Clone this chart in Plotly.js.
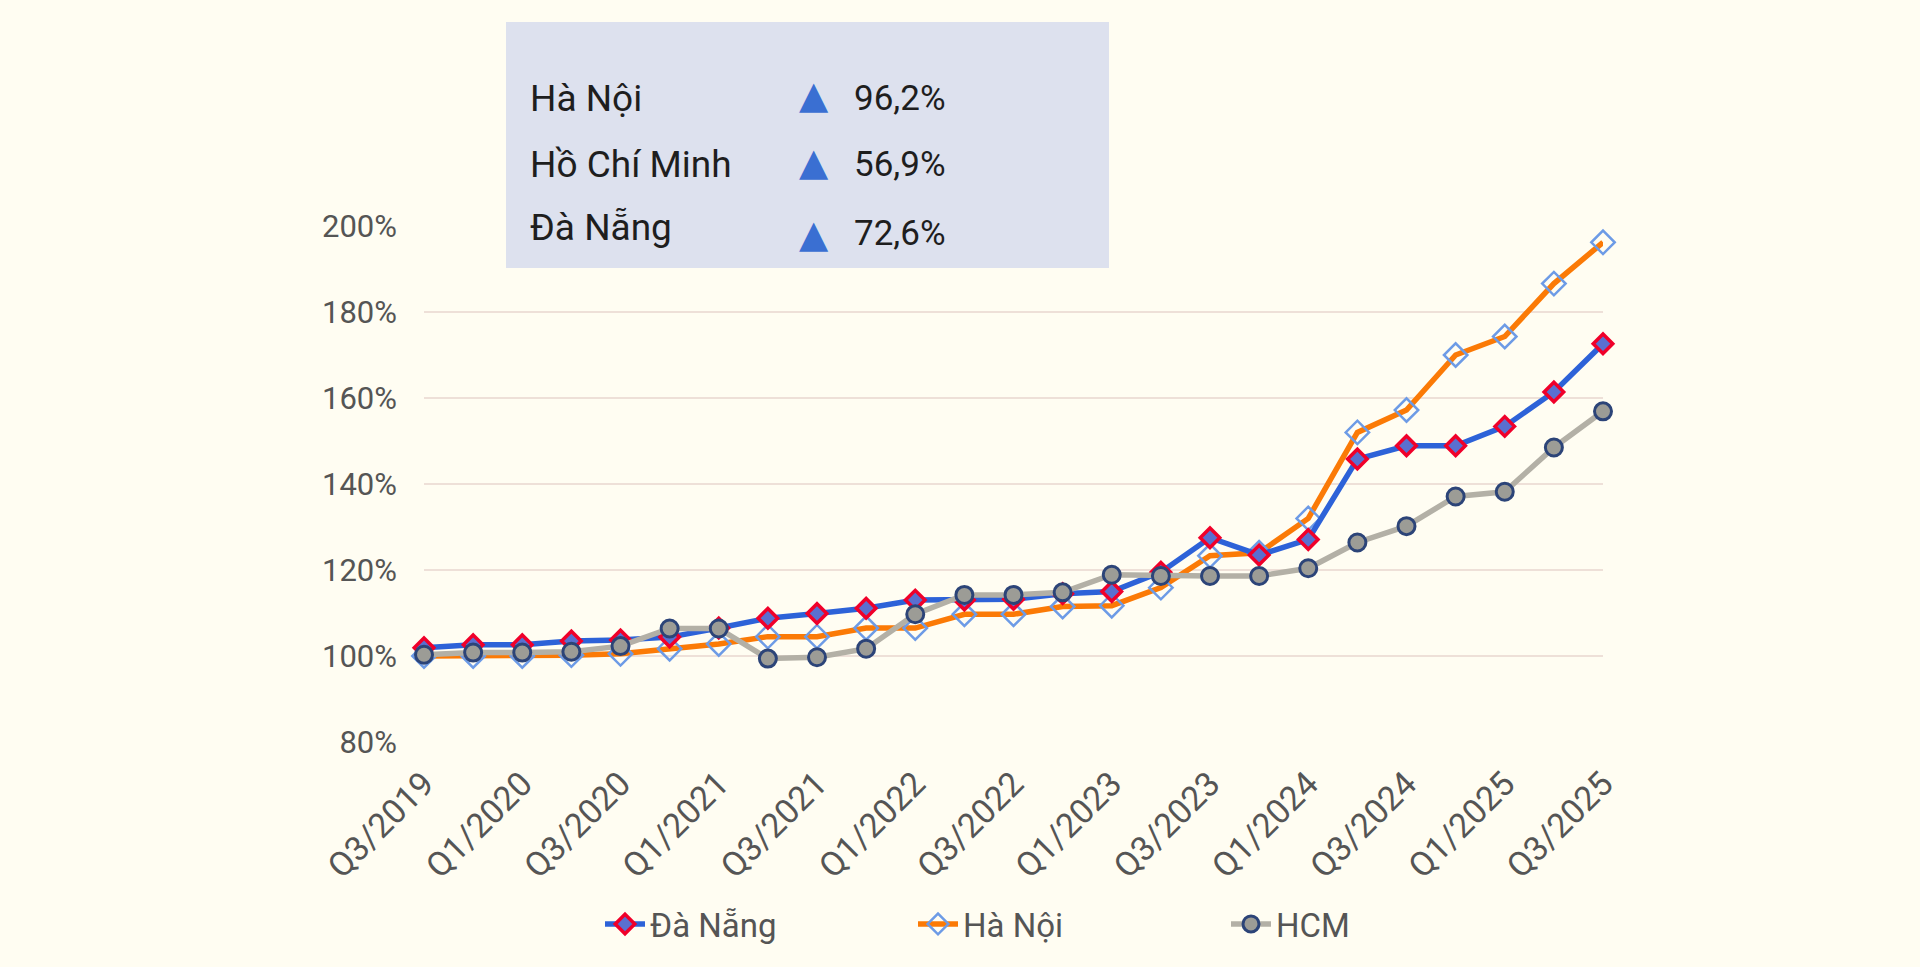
<!DOCTYPE html>
<html>
<head>
<meta charset="utf-8">
<script src="https://cdn.plot.ly/plotly-3.0.1.min.js"></script>
<style>
  html, body { margin: 0; padding: 0; background: #fffdf2; }
  #chart { width: 1920px; height: 967px; }
</style>
</head>
<body>
<div id="chart"></div>
<script>
const quarters = [
  "Q3/2019","Q4/2019","Q1/2020","Q2/2020","Q3/2020","Q4/2020","Q1/2021","Q2/2021","Q3/2021",
  "Q4/2021","Q1/2022","Q2/2022","Q3/2022","Q4/2022","Q1/2023","Q2/2023","Q3/2023","Q4/2023",
  "Q1/2024","Q2/2024","Q3/2024","Q4/2024","Q1/2025","Q2/2025","Q3/2025"
];
const tickLabels = ["Q3/2019","Q1/2020","Q3/2020","Q1/2021","Q3/2021","Q1/2022","Q3/2022",
  "Q1/2023","Q3/2023","Q1/2024","Q3/2024","Q1/2025","Q3/2025"];

const daNang = [101.9,102.6,102.6,103.5,103.7,104.4,106.5,108.8,109.9,111.1,113.0,113.0,113.2,
  114.5,115.0,119.5,127.5,123.5,127.1,145.8,148.9,148.9,153.4,161.4,172.6];
const haNoi = [100.0,100.0,100.0,100.2,100.5,101.7,102.8,104.5,104.5,106.5,106.5,109.7,109.7,
  111.5,111.7,115.9,123.3,124.0,132.0,152.0,157.2,170.0,174.3,186.6,196.2];
const hcm = [100.3,100.8,100.8,101.0,102.3,106.4,106.4,99.4,99.7,101.7,109.7,114.2,114.2,
  114.8,118.9,118.6,118.6,118.6,120.4,126.4,130.2,137.1,138.2,148.5,156.9];

const boxCities = ["Hà Nội","Hồ Chí Minh","Đà Nẵng"];
const boxChanges = ["96,2%","56,9%","72,6%"];

const traces = [
  {
    name: "Hà Nội", x: quarters, y: haNoi, type: "scatter", mode: "lines+markers",
    line: {color: "#fb7a06", width: 5.5},
    marker: {symbol: "diamond-open", size: 18, color: "#6d9be6", line: {width: 2.5, color: "#6d9be6"}},
    legendrank: 2, cliponaxis: false
  },
  {
    name: "Đà Nẵng", x: quarters, y: daNang, type: "scatter", mode: "lines+markers",
    line: {color: "#2d62d8", width: 5.5},
    marker: {symbol: "diamond", size: 15, color: "#5a6fd0", line: {width: 3.5, color: "#f0002a"}},
    legendrank: 1, cliponaxis: false
  },
  {
    name: "HCM", x: quarters, y: hcm, type: "scatter", mode: "lines+markers",
    line: {color: "#b3b0a6", width: 5.5},
    marker: {symbol: "circle", size: 17, color: "#9c9c96", line: {width: 3, color: "#2c4478"}},
    legendrank: 3, cliponaxis: false
  }
];

const L = 424, R = 1603, T = 226, B = 742;
const px = x => (x - L) / (R - L);
const py = y => (B - y) / (B - T);

const boxRowsY = [98, 164, 227];
const triRowsY = [95, 162, 234];
const annotations = [];
boxCities.forEach((c, i) => {
  annotations.push({text: c, xref: "paper", yref: "paper", x: px(528), y: py(boxRowsY[i]),
    xanchor: "left", yanchor: "middle", showarrow: false,
    font: {family: "Roboto, Arial, sans-serif", size: 37, color: "#1e1e1e"}});
  annotations.push({text: "▲", xref: "paper", yref: "paper", x: px(814), y: py(triRowsY[i]),
    xanchor: "center", yanchor: "middle", showarrow: false,
    font: {family: "DejaVu Sans, sans-serif", size: 38, color: "#3a6fd2"}});
  annotations.push({text: boxChanges[i], xref: "paper", yref: "paper", x: px(852), y: py(boxRowsY[i] + (i === 2 ? 6 : 0)),
    xanchor: "left", yanchor: "middle", showarrow: false,
    font: {family: "Roboto, Arial, sans-serif", size: 35, color: "#1e1e1e"}});
});

const layout = {
  width: 1920, height: 967,
  paper_bgcolor: "#fffdf2", plot_bgcolor: "#fffdf2",
  margin: {l: L, r: 1920 - R, t: T, b: 967 - B, pad: 0},
  font: {family: "Roboto, Arial, sans-serif", color: "#555555"},
  xaxis: {
    type: "category", categoryorder: "array", categoryarray: quarters,
    range: [0, 24], tickmode: "array", tickvals: tickLabels, ticktext: tickLabels,
    tickangle: -45, showgrid: false, zeroline: false, showline: false, ticks: "",
    tickfont: {size: 34, color: "#555555"}, ticklabelstandoff: 14
  },
  yaxis: {
    range: [80, 200], dtick: 20, tick0: 80, ticksuffix: "%",
    gridcolor: "#eee0d8", gridwidth: 2, zeroline: false, showline: false, ticks: "",
    tickfont: {size: 31, color: "#555555"}, ticklabelstandoff: 26
  },
  showlegend: true,
  legend: {
    orientation: "h", x: px(600), xanchor: "left", y: py(924), yanchor: "middle",
    font: {size: 33, color: "#555555"}, bgcolor: "rgba(0,0,0,0)",
    entrywidth: 258, itemwidth: 40, traceorder: "normal"
  },
  shapes: [{
    type: "rect", xref: "paper", yref: "paper", layer: "above",
    x0: px(506), x1: px(1109), y0: py(268), y1: py(22),
    fillcolor: "#dde1ee", line: {width: 0}
  }],
  annotations: annotations
};

Plotly.newPlot("chart", traces, layout, {displayModeBar: false, staticPlot: true});
</script>
</body>
</html>
